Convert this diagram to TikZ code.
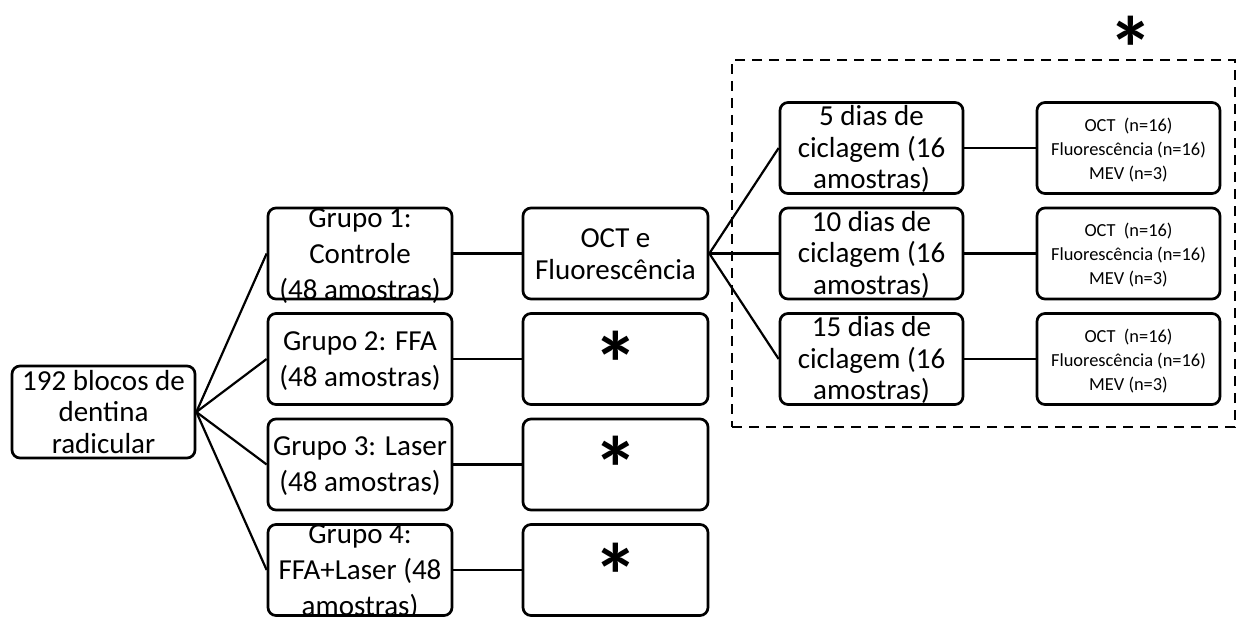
\documentclass[tikz,border=0pt]{standalone}
\usepackage{fontspec}
\setmainfont{Carlito}
\newcommand{\bigstar}{\raisebox{-\fontcharht\font`\*}[0pt][0pt]{*}}
\begin{document}
\begin{tikzpicture}[x=1pt,y=-1pt,
  box/.style={draw, line width=2.7pt, rounded corners=8pt, minimum width=184pt, minimum height=91pt, inner sep=0pt},
  txt/.style={align=center, inner sep=0pt, font=\fontsize{29}{36}\selectfont},
  txtb/.style={align=center, inner sep=0pt, font=\fontsize{29}{31.5}\selectfont},
  small/.style={align=center, inner sep=0pt, font=\fontsize{18.4}{24}\selectfont},
  star/.style={inner sep=0pt, font=\fontsize{90}{90}\selectfont\bfseries},
  conn/.style={line width=2.7pt},
  diag/.style={line width=2.2pt},
  frame/.style={draw, line width=2.7pt, dash pattern=on 10pt off 7pt}]
\useasboundingbox (0,0) rectangle (1242,617);
% dashed frame
\node[frame, minimum width=503pt, minimum height=367pt, inner sep=0pt] (frm) at (983.5,243.5) {};
\node[star] (topstar) at (1131,16) {\bigstar};
% root
\node[box, minimum width=183pt, minimum height=92pt] (root) at (103.5,412) {};
\node[txtb] (roott) at (103.5,412) {192 blocos de\\dentina\\radicular};
% groups
\node[box] (g1) at (360,253.5) {};
\node[box] (g2) at (360,359) {};
\node[box] (g3) at (360,464.5) {};
\node[box] (g4) at (360,570) {};
\node[txt] (g1t) at (360,256) {Grupo 1:\\Controle\\(48 amostras)};
\node[txt] (g2t) at (360,361) {Grupo 2: FFA\\(48 amostras)};
\node[txt] (g3t) at (360,466.5) {Grupo 3: Laser\\(48 amostras)};
\node[txt] (g4t) at (360,572) {Grupo 4:\\FFA+Laser (48\\amostras)};
% second column
\node[box, minimum width=185pt] (oct) at (615.5,253.5) {};
\node[txtb] (octt) at (615.5,254) {OCT e\\Fluorescência};
\node[box, minimum width=185pt] (s2) at (615.5,359) {};
\node[box, minimum width=185pt] (s3) at (615.5,464.5) {};
\node[box, minimum width=185pt] (s4) at (615.5,570) {};
\node[star] (s2s) at (615.5,331) {\bigstar};
\node[star] (s3s) at (615.5,436) {\bigstar};
\node[star] (s4s) at (615.5,543) {\bigstar};
% cycling
\node[box, minimum width=183pt] (c1) at (871.5,148) {};
\node[box, minimum width=183pt] (c2) at (871.5,253.5) {};
\node[box, minimum width=183pt] (c3) at (871.5,359) {};
\node[txtb] (c1t) at (871.5,149) {5 dias de\\ciclagem (16\\amostras)};
\node[txtb] (c2t) at (871.5,254.5) {10 dias de\\ciclagem (16\\amostras)};
\node[txtb] (c3t) at (871.5,360) {15 dias de\\ciclagem (16\\amostras)};
% results
\node[box, minimum width=183pt] (r1) at (1128.5,148) {};
\node[box, minimum width=183pt] (r2) at (1128.5,253.5) {};
\node[box, minimum width=183pt] (r3) at (1128.5,359) {};
\node[small] (r1t) at (1128.5,150) {OCT~~(n=16)\\Fluorescência (n=16)\\MEV (n=3)};
\node[small] (r2t) at (1128.5,255.5) {OCT~~(n=16)\\Fluorescência (n=16)\\MEV (n=3)};
\node[small] (r3t) at (1128.5,361) {OCT~~(n=16)\\Fluorescência (n=16)\\MEV (n=3)};
% connectors
\draw[diag] (root.east) -- (g1.west);
\draw[diag] (root.east) -- (g2.west);
\draw[diag] (root.east) -- (g3.west);
\draw[diag] (root.east) -- (g4.west);
\draw[conn] (g1.east) -- (oct.west);
\draw[conn] (g2.east) -- (s2.west);
\draw[conn] (g3.east) -- (s3.west);
\draw[conn] (g4.east) -- (s4.west);
\draw[diag] (oct.east) -- (c1.west);
\draw[conn] (oct.east) -- (c2.west);
\draw[diag] (oct.east) -- (c3.west);
\draw[conn] (c1.east) -- (r1.west);
\draw[conn] (c2.east) -- (r2.west);
\draw[conn] (c3.east) -- (r3.west);
\end{tikzpicture}
\end{document}
